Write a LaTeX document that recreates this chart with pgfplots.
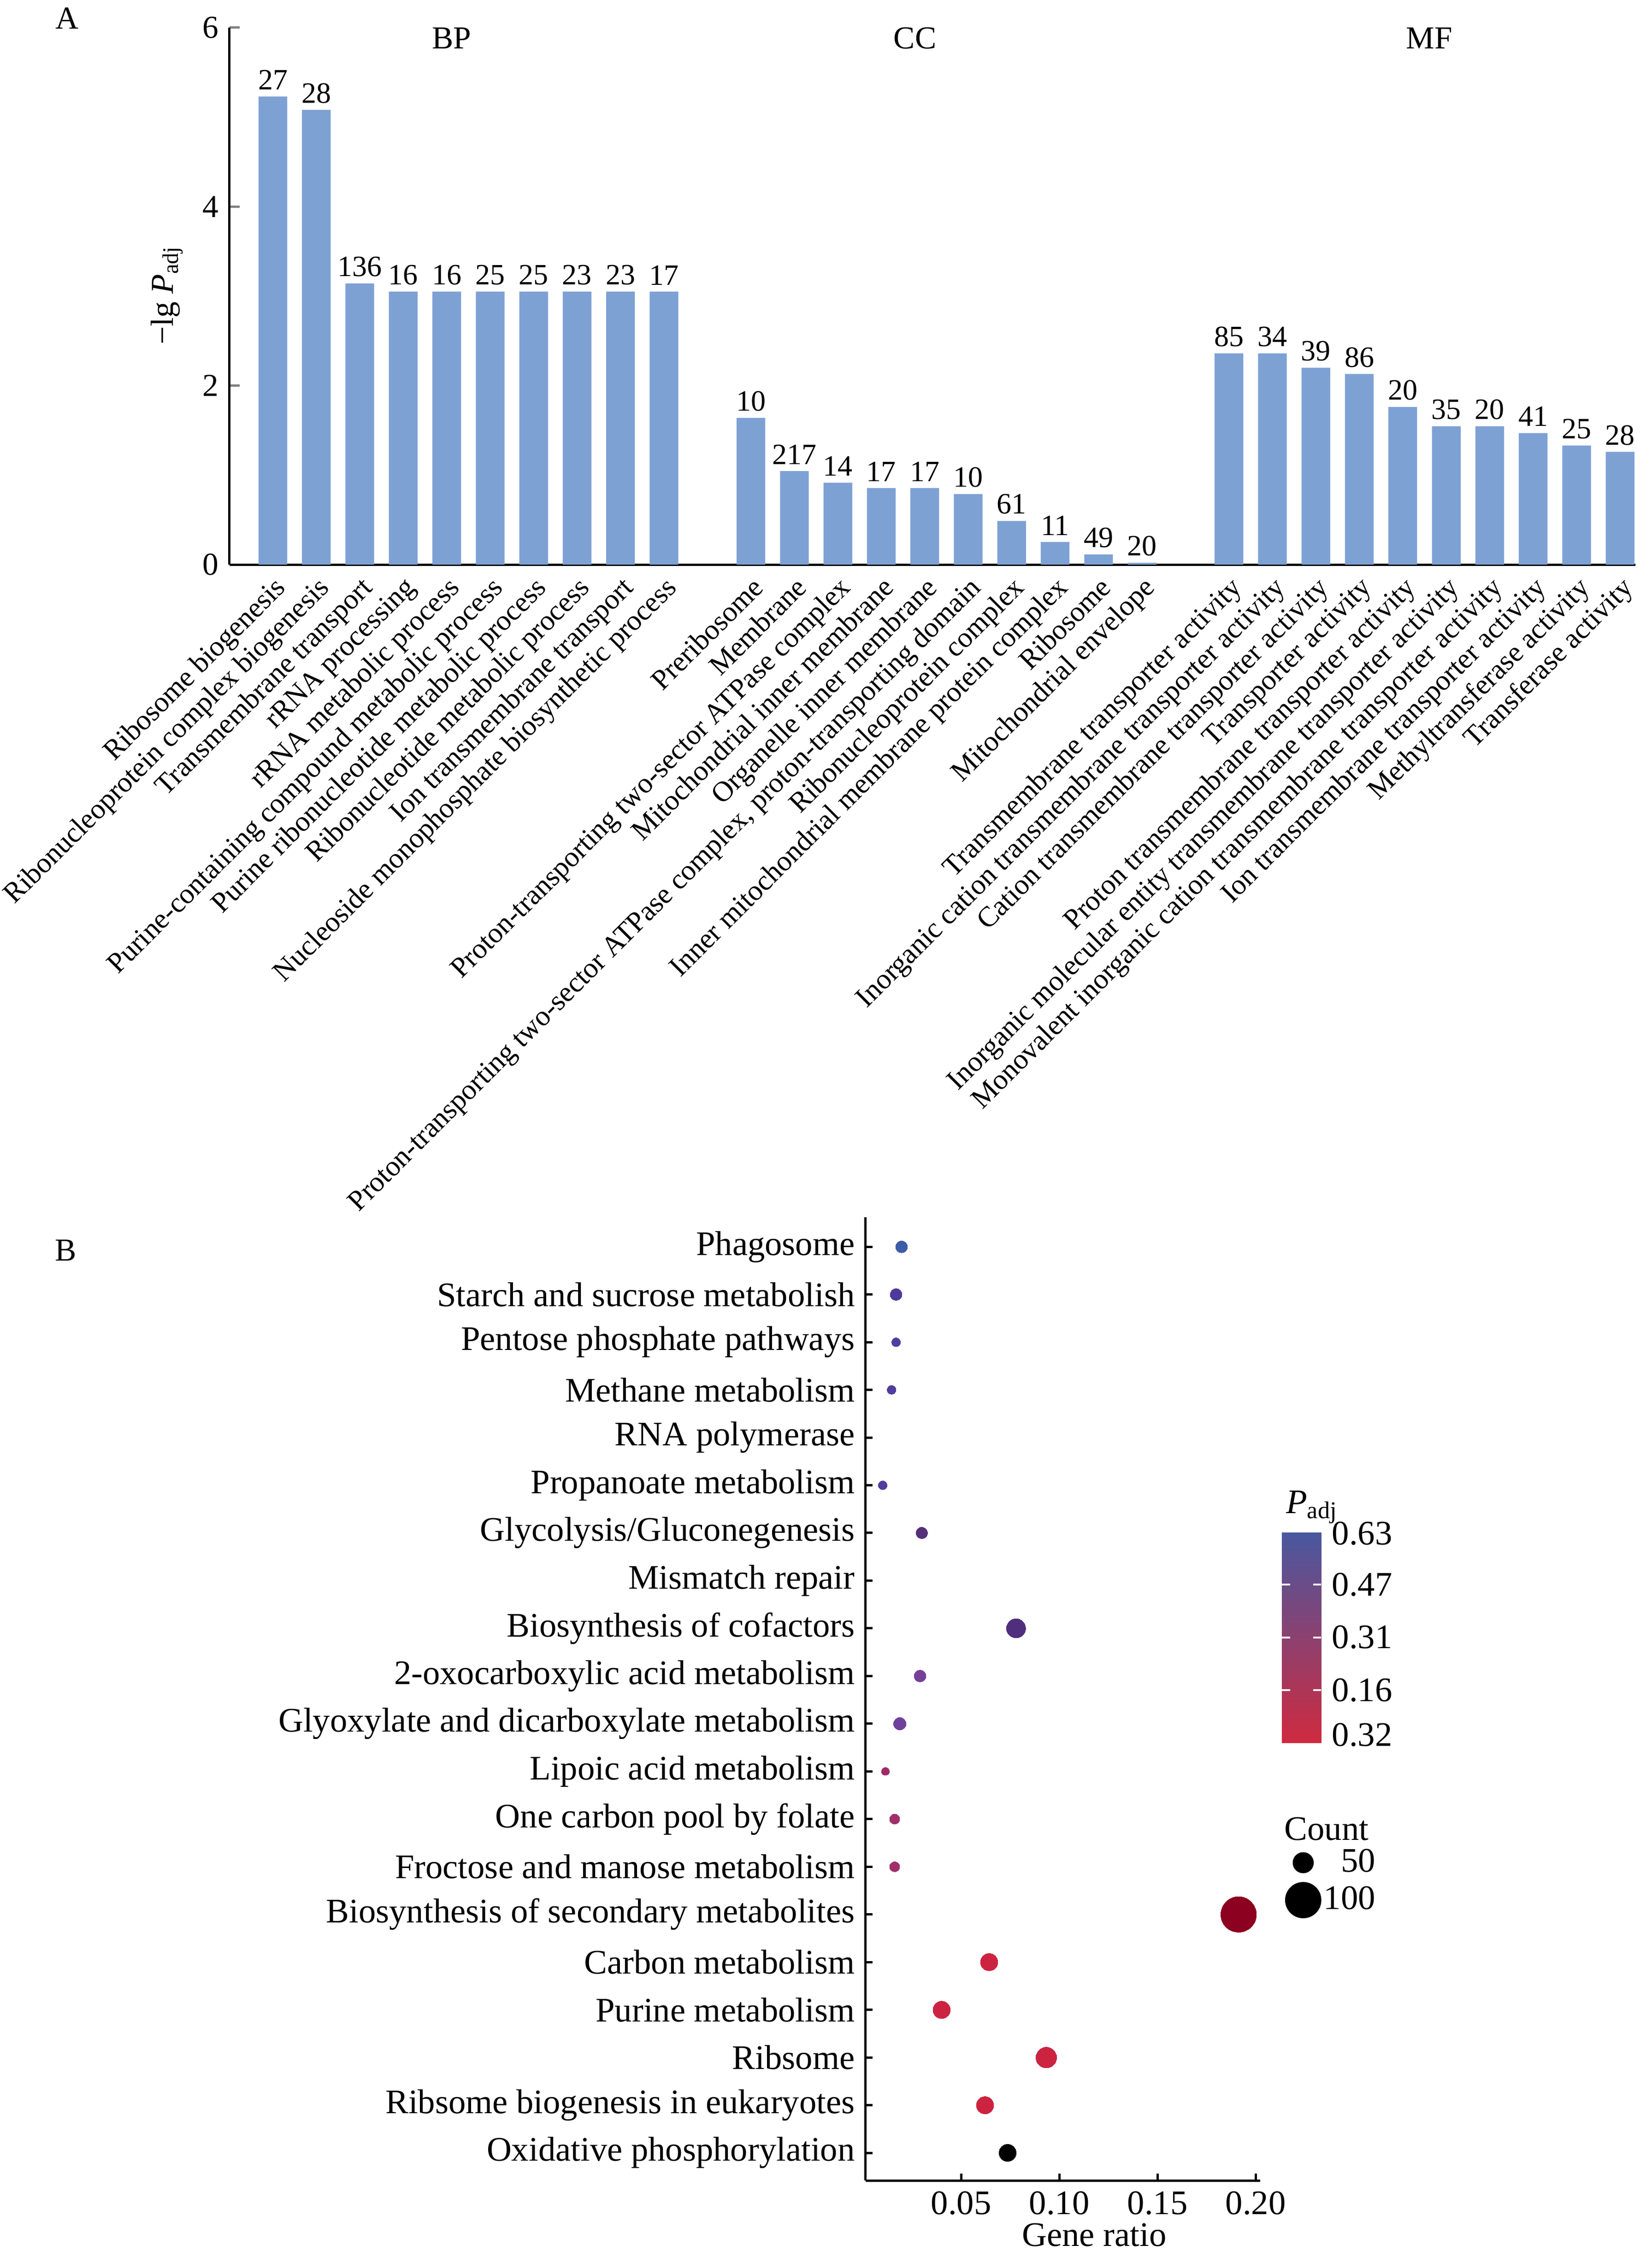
\documentclass[border=0pt]{standalone}
\usepackage{fontspec}
\setmainfont{Liberation Serif}
\usepackage{pgfplots}
\usepackage{pgfplotstable}
\pgfplotsset{compat=1.18}
\definecolor{barblue}{RGB}{126,161,212}
\definecolor{cA}{RGB}{60,92,168}
\definecolor{cB}{RGB}{78,58,154}
\definecolor{cC}{RGB}{80,61,158}
\definecolor{cD}{RGB}{85,48,122}
\definecolor{cE}{RGB}{79,46,126}
\definecolor{cF}{RGB}{116,64,154}
\definecolor{cG}{RGB}{112,64,158}
\definecolor{cH}{RGB}{160,42,104}
\definecolor{cI}{RGB}{160,48,106}
\definecolor{cJ}{RGB}{140,0,32}
\definecolor{cK}{RGB}{204,36,64}
\newcommand\fa{\fontsize{10.4}{12}\selectfont}
\newcommand\fb{\fontsize{9.6}{11}\selectfont}
\newcommand\fl{\fontsize{9.3}{11}\selectfont}
\newcommand\fc{\fontsize{11.2}{13}\selectfont}
% bubble: x, y, count, colour
\newcommand\bub[4]{\addplot[forget plot, only marks, mark=*, color=#4, mark options={fill=#4, draw=#4, line width=0pt}, mark size={(0.75+0.0495*#3)*1pt}] coordinates {(#1,#2)};}
\pgfplotstableread{
x y n
1 5.23 27
2 5.08 28
3 3.14 136
4 3.05 16
5 3.05 16
6 3.05 25
7 3.05 25
8 3.05 23
9 3.05 23
10 3.05 17
12 1.64 10
13 1.045 217
14 0.915 14
15 0.855 17
16 0.855 17
17 0.787 10
18 0.488 61
19 0.253 11
20 0.113 49
21 0.02 20
23 2.36 85
24 2.36 34
25 2.20 39
26 2.13 86
27 1.76 20
28 1.545 35
29 1.545 20
30 1.47 41
31 1.33 25
32 1.26 28
}\gotable
\begin{document}
\begin{tikzpicture}
\useasboundingbox (0,0) rectangle (537.6pt,-734.55pt);
% ---------------- Panel A ----------------
\begin{axis}[
  at={(74.66pt,-183.75pt)}, anchor=south west,
  scale only axis, width=457.5pt, height=174.8pt,
  xmin=0, xmax=32.35, ymin=0, ymax=6,
  axis x line=bottom, axis y line=left,
  axis line style={-, line width=0.75pt},
  tick align=inside,
  /pgf/number format/assume math mode=true,
  ytick={0,2,4,6}, yticklabels={0,2,4,6},
  ytick style={line width=0.75pt}, major tick length=3.3pt,
  yticklabel style={font=\fa},
  xtick={1,2,3,4,5,6,7,8,9,10,12,13,14,15,16,17,18,19,20,21,23,24,25,26,27,28,29,30,31,32},
  xtick style={draw=none},
  xticklabels={Ribosome biogenesis, Ribonucleoprotein complex biogenesis, Transmembrane transport, rRNA processing, rRNA metabolic process, Purine-containing compound metabolic process, Purine ribonucleotide metabolic process, Ribonucleotide metabolic process, Ion transmembrane transport, Nucleoside monophosphate biosynthetic process,
  Preribosome, Membrane, Proton-transporting two-sector ATPase complex, Mitochondrial inner membrane, Organelle inner membrane, {Proton-transporting two-sector ATPase complex, proton-transporting domain}, Ribonucleoprotein complex, Inner mitochondrial membrane protein complex, Ribosome, Mitochondrial envelope,
  Transmembrane transporter activity, Inorganic cation transmembrane transporter activity, Cation transmembrane transporter activity, Transporter activity, Proton transmembrane transporter activity, Inorganic molecular entity transmembrane transporter activity, Monovalent inorganic cation transmembrane transporter activity, Ion transmembrane transporter activity, Methyltransferase activity, Transferase activity},
  xticklabel style={rotate=45, anchor=north east, font=\fl, inner sep=1pt, yshift=-1.2pt, xshift=-1.3pt},
  clip=false,
]
\addplot[ybar, bar width=0.66, fill=barblue, draw=none,
  point meta=explicit symbolic,
  nodes near coords={\pgfplotspointmeta},
  nodes near coords style={font=\fb, anchor=south, inner sep=2pt, text=black}]
  table[x=x, y=y, meta=n] {\gotable};
\end{axis}
\node[font=\fa] at (21.9pt,-6pt) {A};
\node[font=\fa] at (147pt,-12.45pt) {BP};
\node[font=\fa] at (297.75pt,-12.45pt) {CC};
\node[font=\fa] at (465.15pt,-12.45pt) {MF};
\node[font=\fa, rotate=90] at (54.3pt,-96pt) {−lg \textit{P}\textsubscript{adj}};
% ---------------- Panel B ----------------
\begin{axis}[
  at={(281.7pt,-709.65pt)}, anchor=south west,
  scale only axis, width=128.4pt, height=313.5pt,
  xmin=0.0014, xmax=0.2023, ymin=-0.58, ymax=19.62,
  axis x line=bottom, axis y line=left,
  axis line style={-, line width=0.75pt},
  tick align=inside, major tick length=2.2pt,
  tick style={line width=0.75pt, black},
  /pgf/number format/assume math mode=true,
  xtick={0.05,0.10,0.15,0.20}, xticklabels={0.05,0.10,0.15,0.20},
  ytick={0,1,2,3,4,5,6,7,8,9,10,11,12,13,14,15,16,17,18,19},
  yticklabels={Oxidative phosphorylation, Ribsome biogenesis in eukaryotes, Ribsome, Purine metabolism, Carbon metabolism, Biosynthesis of secondary metabolites, Froctose and manose metabolism, One carbon pool by folate, Lipoic acid metabolism, Glyoxylate and dicarboxylate metabolism, 2-oxocarboxylic acid metabolism, Biosynthesis of cofactors, Mismatch repair, Glycolysis/Gluconegenesis, Propanoate metabolism, RNA polymerase, Methane metabolism, Pentose phosphate pathways, Starch and sucrose metabolish, Phagosome},
  ticklabel style={font=\fc},
  clip=false,
  colormap={padj}{rgb255(0cm)=(207,42,63); rgb255(1cm)=(72,88,160)},
  point meta min=0, point meta max=4,
  colorbar,
  colorbar style={
    at={(parent axis.north east)}, anchor=north west,
    xshift=-1.45pt, yshift=-102.45pt,
    scale only axis, width=12.75pt, height=68.55pt,
    axis line style={draw=none},
    ytick={1,2,3}, yticklabels={0.16,0.31,0.47},
    extra y ticks={0.15,3.97}, extra y tick labels={0.32,0.63},
    extra y tick style={major tick length=0pt, tick style={draw=none}},
    major tick length=2.6pt,
    tick style={white, line width=0.6pt},
    yticklabel style={font=\fc},
    /pgf/number format/assume math mode=true,
  },
  legend style={at={(rel axis cs:1.3014,0.348)}, anchor=north east, draw=none, fill=none, font=\fc, inner sep=0pt, row sep=1pt, nodes={inner sep=1pt}},
  legend cell align=right,
]
\bub{0.0197}{19}{24}{cA}
\bub{0.0169}{18}{24}{cB}
\bub{0.0169}{17}{14}{cC}
\bub{0.0146}{16}{14}{cC}
\bub{0.0101}{14}{14}{cC}
\bub{0.0300}{13}{23}{cD}
\bub{0.0780}{11}{48}{cE}
\bub{0.0291}{10}{24}{cF}
\bub{0.0188}{9}{26}{cG}
\bub{0.0115}{8}{11}{cH}
\bub{0.0162}{7}{18}{cI}
\bub{0.0162}{6}{18}{cI}
\bub{0.1913}{5}{102}{cJ}
\bub{0.0643}{4}{42}{cK}
\bub{0.0401}{3}{42}{cK}
\bub{0.0934}{2}{53}{cK}
\bub{0.0622}{1}{42}{cK}
\bub{0.0737}{0}{41}{black}
\addlegendimage{only marks, mark=*, black, mark size=3.225pt}
\addlegendentry{50}
\addlegendimage{only marks, mark=*, black, mark size=5.7pt}
\addlegendentry{100}
\end{axis}
\node[font=\fa] at (21.45pt,-406.95pt) {B};
\node[font=\fc, anchor=base west] at (415pt,-492.45pt) {\textit{P}\textsubscript{adj}};
\node[font=\fc] at (431.7pt,-595.2pt) {Count};
\node[font=\fc] at (356.1pt,-727.35pt) {Gene ratio};
\end{tikzpicture}
\end{document}
